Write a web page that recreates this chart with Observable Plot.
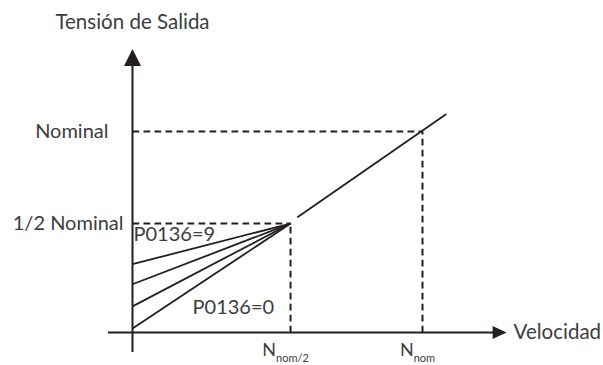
<!DOCTYPE html>
<html>
<head>
<meta charset="utf-8">
<script src="https://cdn.jsdelivr.net/npm/d3@7"></script>
<script src="https://cdn.jsdelivr.net/npm/@observablehq/plot@0.6"></script>
<style>
  html, body { margin: 0; padding: 0; background: #fff; }
</style>
</head>
<body>
<div id="chart"></div>
<script>
// ---- Data (arbitrary units as drawn: nominal speed = 100, nominal voltage = 100)
const rampStarts = [34, 24, 13, 2];          // output voltage at zero speed, P0136 = 9 ... 0
const halfSpeed = 54.5;                       // N nom/2 as drawn
const halfVoltage = 54.2;                     // 1/2 Nominal as drawn
const linearSpeed = [57, 108];                // straight V/f segment (speed)
const linearVoltage = [57.5, 108.5];          // straight V/f segment (voltage)
const xTickValues = [halfSpeed, 100];
const xTickMain = ["N", "N"];
const xTickSub = ["nom/2", "nom"];
const yTickValues = [halfVoltage, 100];
const yTickLabels = ["1/2 Nominal", "Nominal"];
const curveLabels = ["P0136=9", "P0136=0"];
const axisTitles = ["Tensión de Salida", "Velocidad"];
const axisExtentX = [-8.3, 129];
const axisExtentY = [-10, 141];

const ink = "#231f20";
const textInk = "#3d3d3d";

const segment = linearSpeed.map((x, i) => ({x, y: linearVoltage[i]}));
const ramps = rampStarts.map(s => ({x1: 0, y1: s, x2: halfSpeed, y2: halfVoltage}));
const guidesH = yTickValues.map((v, i) => ({x1: 0, y1: v, x2: xTickValues[i], y2: v}));
const guidesV = xTickValues.map((v, i) => ({x1: v, y1: 0, x2: v, y2: yTickValues[i]}));

const upArrow = {draw(ctx) { ctx.moveTo(0, 0); ctx.lineTo(8.5, 17); ctx.lineTo(-8.5, 17); ctx.closePath(); }};
const rightArrow = {draw(ctx) { ctx.moveTo(0, 0); ctx.lineTo(-14, -6.5); ctx.lineTo(-14, 6.5); ctx.closePath(); }};

const chart = Plot.plot({
  width: 603,
  height: 365,
  margin: 0,
  style: {fontFamily: "Lato, 'Open Sans', sans-serif", fontSize: "20px", color: textInk, background: "#fff", overflow: "visible"},
  x: {domain: [-132 / 2.9, 471 / 2.9], axis: null},
  y: {domain: [-33 / 2.01, 332 / 2.01], axis: null},
  marks: [
    // dashed guides
    Plot.link(guidesH, {x1: "x1", y1: "y1", x2: "x2", y2: "y2", stroke: ink, strokeWidth: 2, strokeDasharray: "6.7,4.3"}),
    Plot.link(guidesV, {x1: "x1", y1: "y1", x2: "x2", y2: "y2", stroke: ink, strokeWidth: 2, strokeDasharray: "6.7,4.3"}),
    // axes
    Plot.ruleY([0], {x1: axisExtentX[0], x2: axisExtentX[1] - 3, stroke: ink, strokeWidth: 2}),
    Plot.ruleX([0], {y1: axisExtentY[0], y2: axisExtentY[1] - 3, stroke: ink, strokeWidth: 2}),
    Plot.dot([{x: axisExtentX[1], y: 0}], {x: "x", y: "y", symbol: rightArrow, fill: ink, stroke: null}),
    Plot.dot([{x: 0, y: axisExtentY[1]}], {x: "x", y: "y", symbol: upArrow, fill: ink, stroke: null}),
    // boost ramps
    Plot.link(ramps, {x1: "x1", y1: "y1", x2: "x2", y2: "y2", stroke: ink, strokeWidth: 1.8}),
    // linear segment
    Plot.line(segment, {x: "x", y: "y", stroke: ink, strokeWidth: 1.8}),
    // axis titles
    Plot.text([axisTitles[0]], {x: () => 0, y: () => axisExtentY[1], text: d => d, dy: -26.4, fontSize: 20.5}),
    Plot.text([axisTitles[1]], {x: () => axisExtentX[1], y: () => 0, text: d => d, textAnchor: "start", dx: 7, fontSize: 20.5}),
    // y tick labels
    Plot.text([yTickValues[1]], {x: () => 0, y: d => d, text: () => yTickLabels[1], textAnchor: "end", dx: -24, fontSize: 20}),
    Plot.text([yTickValues[0]], {x: () => 0, y: d => d, text: () => yTickLabels[0], textAnchor: "end", dx: -9, dy: 0.4, fontSize: 20}),
    // curve labels
    Plot.text([curveLabels[0]], {x: () => 0, y: () => 48.5, text: d => d, textAnchor: "start", dx: 1, fontSize: 20}),
    Plot.text([curveLabels[1]], {x: () => 20.7, y: () => 12.6, text: d => d, textAnchor: "start", fontSize: 20}),
    // x tick labels (N with subscript)
    Plot.text(xTickValues, {x: d => d, y: () => -9.5, text: (d, i) => xTickMain[i], textAnchor: "middle", dx: -5, dy: -1, fontSize: 18})
  ]
});

// turn x tick labels into N + subscript
let k = 0;
d3.select(chart).selectAll("text").each(function() {
  if (this.textContent === "N" && k < xTickSub.length) {
    const t = d3.select(this);
    const i = k++;
    t.text(null);
    t.append("tspan").text(xTickMain[i]);
    t.append("tspan").attr("font-size", 11).attr("dy", 6).text(xTickSub[i]);
  }
});

document.getElementById("chart").appendChild(chart);
</script>
</body>
</html>
